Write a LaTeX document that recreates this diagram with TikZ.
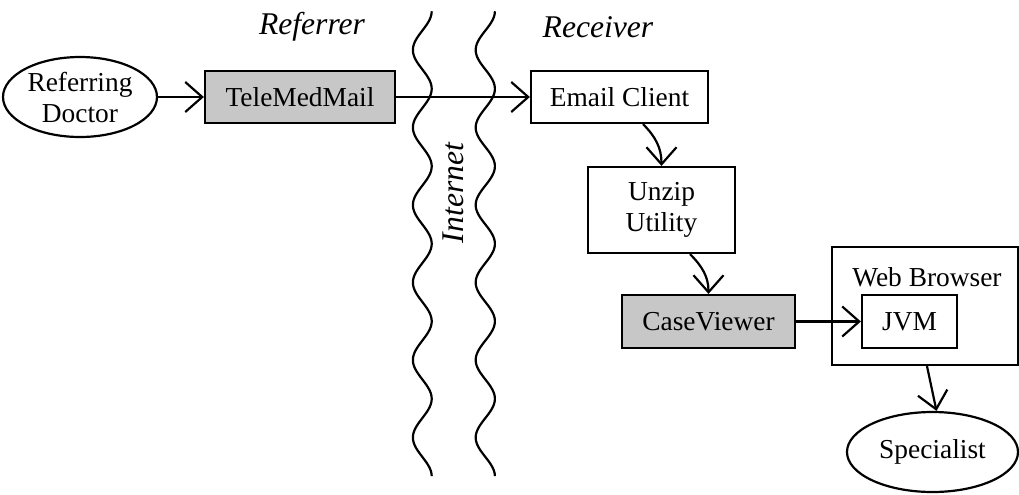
\documentclass[tikz,border=0pt]{standalone}
\usepackage{fontspec}
\setmainfont{Liberation Serif}
\usetikzlibrary{shapes.geometric,arrows.meta}
\begin{document}
\begin{tikzpicture}[x=0.5pt,y=-0.5pt,
  line width=1.1pt,
  every node/.style={font=\fontsize{13.7pt}{15.5pt}\selectfont, inner sep=0pt},
  boxnode/.style={draw, rectangle, align=center},
  shaded/.style={boxnode, fill=black!22},
  ellnode/.style={draw, ellipse, align=center},
  lbl/.style={font=\fontsize{15.8pt}{17pt}\selectfont\itshape},
  arr/.style={-{Straight Barb[length=8.5pt,width=15pt,line width=1.1pt]}},
  wave/.style={line width=1.1pt}
]
\useasboundingbox (0,0) rectangle (1019,494);

% labels
\node[lbl] (referrer) at (312,27) {Referrer};
\node[lbl] (receiver) at (598,27) {Receiver};
\node[lbl, rotate=90] (internet) at (453,193) {Internet};

% wavy lines
\draw[wave] plot[variable=\t, domain=0:6, samples=240, smooth]
  ({422.3+9.4*cos(360*\t)}, {11.25+77.5*\t});
\draw[wave] plot[variable=\t, domain=0:6, samples=240, smooth]
  ({485.3+9.6*cos(360*\t)}, {11.25+77.5*\t});

% nodes
\node[ellnode, minimum width=77pt, minimum height=40pt] (doc) at (80,97) {Referring\\Doctor};
\node[shaded, minimum width=95pt, minimum height=26pt] (tmm) at (300,97) {TeleMedMail};
\node[boxnode, minimum width=88.5pt, minimum height=26pt] (email) at (619.5,97) {Email Client};
\node[boxnode, minimum width=73.5pt, minimum height=43pt] (unzip) at (661.5,210) {Unzip\\Utility};
\node[shaded, minimum width=86.5pt, minimum height=26.5pt] (cv) at (708.5,321.5) {CaseViewer};
\node[boxnode, minimum width=93pt, minimum height=59pt] (web) at (925,306) {};
\node (weblbl) at (927,277) {Web Browser};
\node[boxnode, minimum width=47.5pt, minimum height=26.5pt] (jvm) at (909.5,321.5) {JVM};
\node[ellnode, minimum width=85.5pt, minimum height=40pt] (spec) at (932.5,452) {Specialist};

% connectors
\draw[arr] (doc.east) -- (tmm.west);
\draw[arr] (tmm.east) -- (email.west);
\draw[arr] ([xshift=11.75pt]email.south) to[out=-45,in=90] (unzip.north);
\draw[arr] ([xshift=14.25pt]unzip.south) to[out=-45,in=90] (cv.north);
\draw[arr] (cv.east) -- (jvm.west);
\draw[arr] ([xshift=1pt]web.south) -- ([xshift=2pt]spec.north);
\end{tikzpicture}
\end{document}
